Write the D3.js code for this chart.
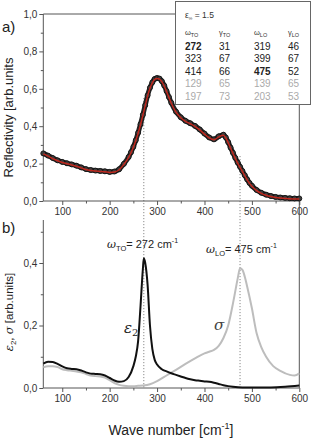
<!DOCTYPE html>
<html>
<head>
<meta charset="utf-8">
<script src="https://cdn.jsdelivr.net/npm/d3@7"></script>
<style>
  body { margin: 0; background: #fff; }
  svg { font-family: "Liberation Sans", Arial, sans-serif; }
  .axis path, .axis line { stroke: #555; }
  .axis text { fill: #333; font-size: 10px; }
</style>
</head>
<body>
<div id="chart"></div>
<script>
// ==== Data ====

// a) measured reflectivity (wave number, value)
const reflWn = [60, 70, 80, 90, 100, 110, 120, 130, 140, 150, 160, 170, 180, 190, 200, 210, 220, 230, 240, 245,
  250, 255, 260, 265, 270, 275, 280, 285, 290, 295, 300, 305, 310, 315, 320, 325, 330, 340, 350, 360,
  370, 380, 390, 400, 410, 420, 430, 440, 445, 450, 455, 460, 465, 470, 475, 480, 485, 490, 495, 500,
  510, 520, 530, 540, 550, 560, 570, 580, 590, 600];
const reflVal = [0.252, 0.240, 0.227, 0.215, 0.206, 0.199, 0.193, 0.186, 0.177, 0.168, 0.163, 0.160, 0.158, 0.156, 0.153, 0.155, 0.167, 0.196, 0.233, 0.258,
  0.287, 0.322, 0.362, 0.408, 0.458, 0.510, 0.562, 0.603, 0.632, 0.650, 0.655, 0.652, 0.638, 0.615, 0.585, 0.553, 0.523, 0.475, 0.445, 0.426,
  0.413, 0.399, 0.380, 0.358, 0.337, 0.327, 0.343, 0.352, 0.337, 0.312, 0.283, 0.255, 0.228, 0.203, 0.180, 0.158, 0.135, 0.113, 0.094, 0.079,
  0.056, 0.041, 0.031, 0.024, 0.019, 0.016, 0.014, 0.012, 0.011, 0.011];

// b) epsilon_2 (black)
const epsWn = [60, 70, 80, 90, 100, 110, 120, 130, 140, 150, 160, 170, 180, 190, 200, 210, 220, 230, 240, 250,
  255, 260, 265, 270, 272, 275, 280, 285, 290, 295, 300, 310, 320, 330, 340, 350, 360, 370, 380, 390,
  400, 410, 420, 430, 440, 450, 460, 480, 500, 540, 570, 600];
const epsVal = [0.078, 0.084, 0.083, 0.077, 0.069, 0.063, 0.061, 0.060, 0.056, 0.050, 0.046, 0.045, 0.044, 0.040, 0.032, 0.024, 0.020, 0.022, 0.035, 0.070,
  0.100, 0.150, 0.260, 0.380, 0.415, 0.400, 0.330, 0.200, 0.125, 0.090, 0.075, 0.060, 0.053, 0.047, 0.042, 0.037, 0.032, 0.028, 0.025, 0.023,
  0.021, 0.020, 0.017, 0.013, 0.009, 0.006, 0.004, 0.002, 0.002, 0.002, 0.004, 0.008];

// b) sigma (grey)
const sigWn = [60, 70, 80, 90, 100, 110, 120, 130, 140, 150, 160, 170, 180, 190, 200, 210, 220, 230, 240, 250,
  260, 270, 285, 300, 320, 340, 360, 380, 400, 410, 420, 430, 440, 450, 460, 465, 470, 475, 480, 485,
  490, 500, 510, 520, 530, 545, 560, 580, 590, 600];
const sigVal = [0.066, 0.070, 0.070, 0.067, 0.060, 0.057, 0.055, 0.053, 0.050, 0.045, 0.040, 0.038, 0.037, 0.033, 0.025, 0.016, 0.010, 0.007, 0.006, 0.006,
  0.007, 0.008, 0.012, 0.022, 0.040, 0.058, 0.077, 0.095, 0.111, 0.116, 0.122, 0.135, 0.160, 0.200, 0.270, 0.310, 0.350, 0.383, 0.378, 0.356,
  0.325, 0.255, 0.175, 0.130, 0.100, 0.070, 0.055, 0.042, 0.040, 0.047];

// fitted oscillator parameters (inset table)
const eInf = "1.5";
const wTO = [272, 323, 414, 129, 197];
const gTO = [31, 67, 66, 65, 73];
const wLO = [319, 399, 475, 139, 203];
const gLO = [46, 67, 52, 65, 53];

// marked frequencies (dotted lines) and where they start in panel a
const markWn = [272, 475];
const markTop = [0.55, 0.24];

// axis ticks
const xTicks = [100, 200, 300, 400, 500, 600];
const xMinor = [150, 250, 350, 450, 550];
const yTicksA = [0, 0.2, 0.4, 0.6, 0.8, 1.0];
const yMinorA = [0.1, 0.3, 0.5, 0.7, 0.9];
const yTicksB = [0, 0.2, 0.4];
const yMinorB = [0.1, 0.3, 0.5];

// ==== Setup ====

const W = 313, H = 441;
const left = 43.3, right = 299.3;
const aTop = 14, aBottom = 201;
const bTop = 220, bBottom = 388;

const svg = d3.select("#chart").append("svg")
  .attr("width", W).attr("height", H);

const xScale = d3.scaleLinear().domain([60, 600]).range([left, right]);
const yA = d3.scaleLinear().domain([0, 1]).range([aBottom, aTop]);
const yB = d3.scaleLinear().domain([0, 0.4]).range([bBottom, 263]);

const comma = d => d3.format(".1f")(d).replace(".", ",");

// ==== Axes ====
function drawAxes(y, top, bottom, ticks, minor) {
  svg.append("g").attr("class", "axis")
    .attr("transform", `translate(0,${bottom})`)
    .call(d3.axisBottom(xScale).tickValues(xTicks).tickSize(4).tickPadding(3).tickFormat(d3.format("d")))
    .call(g => g.select(".domain").attr("d", `M${left},0H${right}`));
  svg.append("g").attr("class", "axis")
    .attr("transform", `translate(0,${bottom})`)
    .call(d3.axisBottom(xScale).tickValues(xMinor).tickSize(2.5).tickFormat(""))
    .call(g => g.select(".domain").remove());
  svg.append("g").attr("class", "axis")
    .attr("transform", `translate(${left},0)`)
    .call(d3.axisLeft(y).tickValues(ticks).tickSize(4).tickPadding(2).tickFormat(comma))
    .call(g => g.select(".domain").attr("d", `M0,${top}V${bottom}`));
  svg.append("g").attr("class", "axis")
    .attr("transform", `translate(${left},0)`)
    .call(d3.axisLeft(y).tickValues(minor).tickSize(2.5).tickFormat(""))
    .call(g => g.select(".domain").remove());
}
drawAxes(yA, aTop, aBottom, yTicksA, yMinorA);
drawAxes(yB, bTop, bBottom, yTicksB, yMinorB);

// frame: top of panel a and the common right edge
svg.append("line").attr("x1", left).attr("x2", right).attr("y1", aTop).attr("y2", aTop)
  .attr("stroke", "#555");
svg.append("line").attr("x1", right).attr("x2", right).attr("y1", aTop).attr("y2", bBottom)
  .attr("stroke", "#555");

// ==== Dotted markers ====
markWn.forEach((w, i) => {
  svg.append("line")
    .attr("x1", xScale(w)).attr("x2", xScale(w))
    .attr("y1", yA(markTop[i])).attr("y2", bBottom)
    .attr("stroke", "#555").attr("stroke-width", 0.8)
    .attr("stroke-dasharray", "1,2");
});

// ==== Panel a: reflectivity ====
const refl = reflWn.map((w, i) => ({ w, v: reflVal[i] }));
const lineA = d3.line().x(d => xScale(d.w)).y(d => yA(d.v)).curve(d3.curveMonotoneX);

svg.append("path").datum(refl)
  .attr("d", lineA).attr("fill", "none")
  .attr("stroke", "#222").attr("stroke-width", 5)
  .attr("transform", "translate(0,-0.5)");

svg.append("g").selectAll("circle")
  .data(refl).join("circle")
  .attr("cx", d => xScale(d.w)).attr("cy", d => yA(d.v) - 0.5)
  .attr("r", 2.5)
  .attr("fill", "#3c3c3c").attr("stroke", "#111").attr("stroke-width", 0.9);

svg.append("path").datum(refl)
  .attr("d", lineA).attr("fill", "none")
  .attr("stroke", "#c0281e").attr("stroke-width", 1.5);

// ==== Panel b: eps2 and sigma ====
const lineB = d3.line().x(d => xScale(d.w)).y(d => yB(d.v)).curve(d3.curveMonotoneX);

svg.append("path").datum(sigWn.map((w, i) => ({ w, v: sigVal[i] })))
  .attr("d", lineB).attr("fill", "none")
  .attr("stroke", "#bdbdbd").attr("stroke-width", 2);

svg.append("path").datum(epsWn.map((w, i) => ({ w, v: epsVal[i] })))
  .attr("d", lineB).attr("fill", "none")
  .attr("stroke", "#111").attr("stroke-width", 2);

// ==== Inset table ====
const box = svg.append("g");
box.append("rect")
  .attr("x", 175.5).attr("y", 1.5).attr("width", 135).attr("height", 103)
  .attr("fill", "#fff").attr("stroke", "#666").attr("stroke-width", 1);

const eText = box.append("text").attr("x", 185).attr("y", 18)
  .attr("font-size", 8.5).attr("fill", "#333");
eText.append("tspan").text("ε");
eText.append("tspan").attr("font-size", 5).attr("dy", 2).text("∞");
eText.append("tspan").attr("dy", -2).text(" = " + eInf);

const colX = [185, 219, 254, 288];
const heads = [["ω", "TO"], ["γ", "TO"], ["ω", "LO"], ["γ", "LO"]];
heads.forEach((h, i) => {
  const t = box.append("text").attr("x", colX[i]).attr("y", 35)
    .attr("font-size", 7.5).attr("fill", "#333");
  t.append("tspan").text(h[0]);
  t.append("tspan").attr("font-size", 5.5).attr("dy", 2).text(h[1]);
});

const cols = [wTO, gTO, wLO, gLO];
wTO.forEach((_, r) => {
  cols.forEach((col, c) => {
    const bold = (c === 0 && r === 0) || (c === 2 && r === 2);
    box.append("text")
      .attr("x", colX[c]).attr("y", 50 + r * 12.4)
      .attr("font-size", 10)
      .attr("font-weight", bold ? "bold" : "normal")
      .attr("fill", r < 3 ? "#222" : "#aaa")
      .text(col[r]);
  });
});

// ==== Labels ====
svg.append("text").attr("x", 2).attr("y", 32).attr("font-size", 15).attr("fill", "#222").text("a)");
svg.append("text").attr("x", 2).attr("y", 233).attr("font-size", 15).attr("fill", "#222").text("b)");

svg.append("text")
  .attr("transform", `translate(13,${(aTop + aBottom) / 2 + 10}) rotate(-90)`)
  .attr("text-anchor", "middle").attr("font-size", 13).attr("fill", "#222")
  .text("Reflectivity [arb.units");

const yl = svg.append("text")
  .attr("transform", `translate(13,312) rotate(-90)`)
  .attr("text-anchor", "middle").attr("font-size", 11.5).attr("fill", "#222");
yl.append("tspan").attr("font-style", "italic").attr("font-family", "DejaVu Serif, serif").text("ε");
yl.append("tspan").attr("font-size", 8).attr("dy", 3).text("2");
yl.append("tspan").attr("dy", -3).text(", ");
yl.append("tspan").attr("font-style", "italic").attr("font-family", "DejaVu Serif, serif").text("σ");
yl.append("tspan").text(" [arb.units]");

const xl = svg.append("text").attr("x", 171).attr("y", 435)
  .attr("text-anchor", "middle").attr("font-size", 14).attr("fill", "#222");
xl.append("tspan").text("Wave number [cm");
xl.append("tspan").attr("font-size", 9).attr("dy", -6).text("-1");
xl.append("tspan").attr("dy", 6).text("]");

// peak annotations
function peakLabel(x, y, sub, val) {
  const t = svg.append("text").attr("x", x).attr("y", y)
    .attr("font-size", 11).attr("fill", "#222");
  t.append("tspan").attr("font-style", "italic").attr("font-family", "DejaVu Serif, serif").text("ω");
  t.append("tspan").attr("font-size", 7.5).attr("dy", 3).text(sub);
  t.append("tspan").attr("dy", -3).text("= " + val + " cm");
  t.append("tspan").attr("font-size", 7).attr("dy", -5).text("-1");
}
peakLabel(107, 248, "TO", wTO[0]);
peakLabel(206, 253, "LO", wLO[2]);

svg.append("text").attr("x", 124).attr("y", 333)
  .attr("font-size", 15).attr("font-style", "italic").attr("font-family", "DejaVu Serif, serif")
  .attr("fill", "#222").text("ε")
  .append("tspan").attr("font-size", 10).attr("dy", 3).attr("font-style", "normal").text("2");
svg.append("text").attr("x", 214).attr("y", 330)
  .attr("font-size", 15).attr("font-style", "italic").attr("font-family", "DejaVu Serif, serif")
  .attr("fill", "#444").text("σ");
</script>
</body>
</html>
